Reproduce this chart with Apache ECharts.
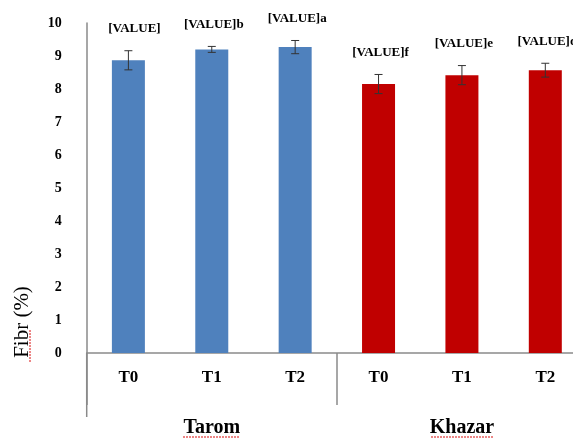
<!DOCTYPE html>
<html>
<head>
<meta charset="utf-8">
<script src="https://cdn.jsdelivr.net/npm/echarts@6/dist/echarts.min.js"></script>
<style>
html,body{margin:0;padding:0;background:#fff;}
#chart{width:573px;height:438px;}
</style>
</head>
<body>
<div id="chart"></div>
<script>
const categories = ['T0', 'T1', 'T2', 'T0', 'T1', 'T2'];
const groups = ['Tarom', 'Khazar'];
const fibre = [8.87, 9.2, 9.27, 8.15, 8.42, 8.57];
const errors = [0.29, 0.09, 0.2, 0.29, 0.29, 0.21];
const letters = ['[VALUE]', '[VALUE]b', '[VALUE]a', '[VALUE]f', '[VALUE]e', '[VALUE]d'];
const yTicks = [0, 1, 2, 3, 4, 5, 6, 7, 8, 9, 10];

const SERIF = '"Liberation Serif", "Times New Roman", serif';
const AXIS_GRAY = '#8a8a8a';
const SPELL_RED = 'rgba(220,40,40,0.75)';

const errData = fibre.map((v, i) => [i, v - errors[i], v + errors[i], letters[i]]);

const chart = echarts.init(document.getElementById('chart'));
chart.setOption({
  animation: false,
  backgroundColor: '#fff',
  grid: { left: 86.7, right: -14, top: 23, bottom: 85, containLabel: false, outerBoundsMode: 'none' },
  xAxis: [
    {
      type: 'category',
      data: categories,
      position: 'bottom',
      axisLine: { show: true, lineStyle: { color: AXIS_GRAY, width: 1.5 } },
      axisTick: { show: false },
      axisLabel: { margin: 16, color: '#000', fontFamily: SERIF, fontWeight: 'bold', fontSize: 17 }
    },
    {
      type: 'category',
      data: groups,
      position: 'bottom',
      axisLine: { show: false },
      axisTick: { show: true, length: 52, interval: 0, lineStyle: { color: AXIS_GRAY, width: 1.5 } },
      axisLabel: { margin: 65, color: '#000', fontFamily: SERIF, fontWeight: 'bold', fontSize: 20 }
    }
  ],
  yAxis: {
    type: 'value',
    min: yTicks[0],
    max: yTicks[yTicks.length - 1],
    interval: 1,
    axisLine: { show: true, lineStyle: { color: AXIS_GRAY, width: 1.5 } },
    axisTick: { show: false },
    splitLine: { show: false },
    axisLabel: { margin: 25, color: '#000', fontFamily: SERIF, fontWeight: 'bold', fontSize: 14 }
  },
  graphic: [
    {
      type: 'line',
      shape: { x1: 86.7, y1: 353, x2: 86.7, y2: 417 },
      style: { stroke: AXIS_GRAY, lineWidth: 1.5 }
    },
    {
      type: 'text',
      x: 22, y: 322,
      rotation: Math.PI / 2,
      style: {
        text: 'Fibr (%)',
        font: '21px ' + SERIF,
        fill: '#000',
        align: 'center',
        verticalAlign: 'middle'
      }
    },
    {
      type: 'line',
      shape: { x1: 30, y1: 330, x2: 30, y2: 362 },
      style: { stroke: SPELL_RED, lineWidth: 1.5, lineDash: [2, 1] }
    },
    {
      type: 'line',
      shape: { x1: 183, y1: 437, x2: 240, y2: 437 },
      style: { stroke: SPELL_RED, lineWidth: 1.5, lineDash: [2, 1] }
    },
    {
      type: 'line',
      shape: { x1: 431, y1: 437, x2: 494, y2: 437 },
      style: { stroke: SPELL_RED, lineWidth: 1.5, lineDash: [2, 1] }
    }
  ],
  series: [
    {
      type: 'bar',
      xAxisIndex: 0,
      data: fibre,
      barWidth: 33,
      itemStyle: {
        color: (p) => (p.dataIndex < 3 ? '#4f81bd' : '#c00000')
      },
      z: 2
    },
    {
      type: 'custom',
      xAxisIndex: 0,
      data: errData,
      encode: { x: 0, y: [1, 2] },
      z: 3,
      renderItem: (params, api) => {
        const x = api.value(0);
        const lo = api.coord([x, api.value(1)]);
        const hi = api.coord([x, api.value(2)]);
        const cap = 4;
        const ls = { stroke: '#333', lineWidth: 1 };
        return {
          type: 'group',
          children: [
            { type: 'line', shape: { x1: hi[0], y1: hi[1], x2: lo[0], y2: lo[1] }, style: ls },
            { type: 'line', shape: { x1: hi[0] - cap, y1: hi[1], x2: hi[0] + cap, y2: hi[1] }, style: ls },
            { type: 'line', shape: { x1: lo[0] - cap, y1: lo[1], x2: lo[0] + cap, y2: lo[1] }, style: ls },
            {
              type: 'text',
              style: {
                text: api.value(3),
                x: hi[0] + (params.dataIndex === 0 ? 6 : 2),
                y: hi[1] - 22,
                align: 'center',
                verticalAlign: 'middle',
                font: 'bold 13px ' + SERIF,
                fill: '#000'
              }
            }
          ]
        };
      }
    }
  ]
});
</script>
</body>
</html>
